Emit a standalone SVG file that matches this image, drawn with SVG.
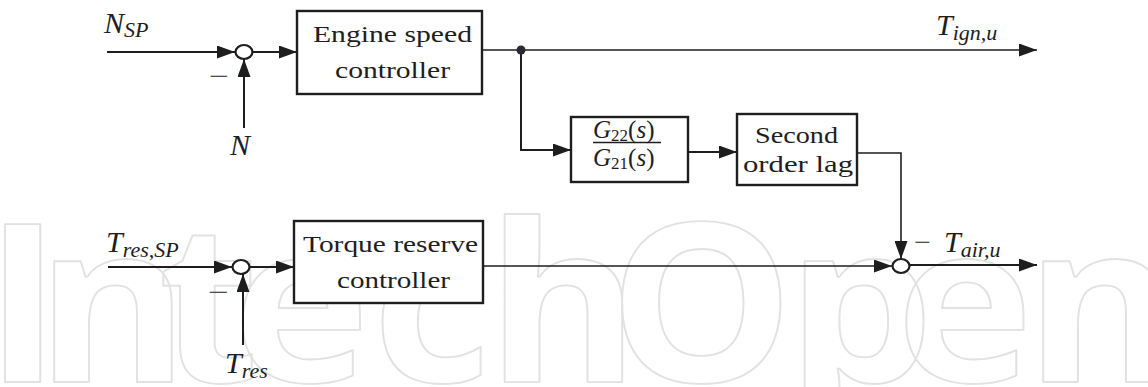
<svg xmlns="http://www.w3.org/2000/svg" width="1148" height="387" viewBox="0 0 1148 387">
  <defs>
    <marker id="arrow" markerUnits="userSpaceOnUse" markerWidth="18" markerHeight="13" refX="18" refY="6.5" orient="auto">
      <path d="M0,0 L18,6.5 L0,13 z" fill="#1e1e1e"/>
    </marker>
    <style>
      .wm { font-family: "Open Sans", "DejaVu Sans", sans-serif; font-weight: 700; font-size: 220px; fill: none; stroke: #e2e2e2; stroke-width: 1.8; stroke-linejoin: round; }
      .box { fill: #fff; stroke: #1e1e1e; stroke-width: 2.4; }
      .wire { fill: none; stroke: #1e1e1e; stroke-width: 2; }
      .thin { fill: none; stroke: #1e1e1e; stroke-width: 1.6; }
      .sum { fill: #fff; stroke: #1e1e1e; stroke-width: 2.2; }
      .lbl { font-family: "Liberation Serif", "DejaVu Serif", serif; font-size: 24px; fill: #1e1e1e; }
      .math { font-family: "Liberation Serif", "DejaVu Serif", serif; font-style: italic; font-size: 30px; fill: #1e1e1e; }
      .sub { font-size: 22px; }
      .frac { font-family: "Liberation Serif", "DejaVu Serif", serif; font-size: 25px; fill: #1e1e1e; }
    </style>
  </defs>

  <rect width="1148" height="387" fill="#fff"/>

  <!-- faint background lettering, widened slightly -->
  <g transform="scale(1.06,1)">
    <text class="wm" x="-15 34 149 219 351 459 574 742 845 967" y="382">IntechOpen</text>
  </g>

  <!-- connectors -->
  <g id="connectors">
    <path class="wire" d="M107,52 H235" marker-end="url(#arrow)"/>
    <path class="wire" d="M253,52 H297" marker-end="url(#arrow)"/>
    <path class="wire" d="M244,128 V59" marker-end="url(#arrow)"/>
    <path class="thin" d="M482,50 H1037" marker-end="url(#arrow)"/>
    <path class="wire" d="M521,50 V150 H571" marker-end="url(#arrow)"/>
    <path class="wire" d="M688,152 H737" marker-end="url(#arrow)"/>
    <path class="thin" d="M857,153 H901 V259" marker-end="url(#arrow)"/>
    <path class="thin" d="M483,266 H892" marker-end="url(#arrow)"/>
    <path class="wire" d="M910,265 H1037" marker-end="url(#arrow)"/>
    <path class="wire" d="M108,267 H232" marker-end="url(#arrow)"/>
    <path class="wire" d="M250,267 H294" marker-end="url(#arrow)"/>
    <path class="wire" d="M243,345 V274" marker-end="url(#arrow)"/>
    <circle cx="521" cy="50" r="4.5" fill="#2a2a2e"/>
  </g>

  <!-- speed loop summing junction -->
  <g id="sum-speed">
    <ellipse class="sum" cx="244" cy="52" rx="8.5" ry="7"/>
    <text class="lbl" x="209" y="84" textLength="20" lengthAdjust="spacingAndGlyphs">−</text>
  </g>

  <!-- torque reserve summing junction -->
  <g id="sum-reserve">
    <ellipse class="sum" cx="241" cy="267" rx="8.5" ry="7"/>
    <text class="lbl" x="208" y="300" textLength="21" lengthAdjust="spacingAndGlyphs">−</text>
  </g>

  <!-- air torque summing junction -->
  <g id="sum-air">
    <ellipse class="sum" cx="901" cy="266" rx="8.5" ry="7"/>
  </g>

  <g id="engine-speed-controller">
    <rect class="box" x="297" y="11" width="185" height="83"/>
    <text class="lbl" x="313" y="42" textLength="159" lengthAdjust="spacingAndGlyphs">Engine speed</text>
    <text class="lbl" x="335" y="78" textLength="115" lengthAdjust="spacingAndGlyphs">controller</text>
  </g>

  <g id="transfer-ratio">
    <rect class="box" x="571" y="117" width="117" height="65"/>
    <text class="frac" x="593" y="138"><tspan font-style="italic">G</tspan><tspan font-size="17" dy="3">22</tspan><tspan dy="-3">(</tspan><tspan font-style="italic">s</tspan>)</text>
    <line x1="593" y1="142.5" x2="661" y2="142.5" stroke="#1e1e1e" stroke-width="1.3"/>
    <text class="frac" x="593" y="166"><tspan font-style="italic">G</tspan><tspan font-size="17" dy="3">21</tspan><tspan dy="-3">(</tspan><tspan font-style="italic">s</tspan>)</text>
  </g>

  <g id="second-order-lag">
    <rect class="box" x="737" y="114" width="120" height="71"/>
    <text class="lbl" x="755" y="143" textLength="83" lengthAdjust="spacingAndGlyphs">Second</text>
    <text class="lbl" x="743" y="172" textLength="110" lengthAdjust="spacingAndGlyphs">order lag</text>
  </g>

  <g id="torque-reserve-controller">
    <rect class="box" x="294" y="221" width="189" height="82"/>
    <text class="lbl" x="303" y="252" textLength="175" lengthAdjust="spacingAndGlyphs">Torque reserve</text>
    <text class="lbl" x="337" y="288" textLength="113" lengthAdjust="spacingAndGlyphs">controller</text>
  </g>

  <!-- signal labels -->
  <g id="label-nsp">
    <text class="math" x="104" y="33">N<tspan class="sub" dy="4">SP</tspan></text>
  </g>
  <g id="label-n">
    <text class="math" x="230" y="155">N</text>
  </g>
  <g id="label-tign">
    <text class="math" x="936" y="35">T<tspan class="sub" dy="5">ign,u</tspan></text>
  </g>
  <g id="label-tair">
    <text class="lbl" x="914" y="250" textLength="17" lengthAdjust="spacingAndGlyphs">−</text>
    <text class="math" x="944" y="252">T<tspan class="sub" dy="5">air,u</tspan></text>
  </g>
  <g id="label-tressp">
    <text class="math" x="106" y="252">T<tspan class="sub" dy="5">res,SP</tspan></text>
  </g>
  <g id="label-tres">
    <text class="math" x="225" y="373">T<tspan class="sub" dy="5">res</tspan></text>
  </g>
</svg>
